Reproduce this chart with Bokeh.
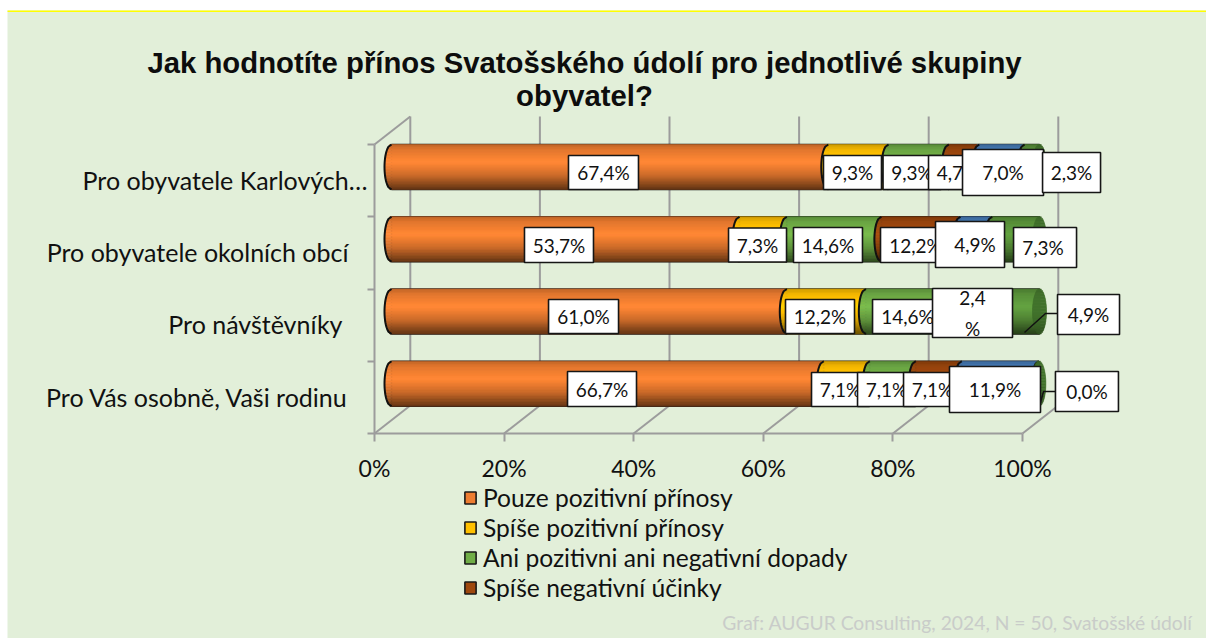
from bokeh.plotting import figure
from bokeh.models import Range1d, FixedTicker, Legend, LegendItem, Label, LabelSet, ColumnDataSource, LinearAxis
from bokeh.core.properties import value
from bokeh.embed import file_html
from bokeh.resources import INLINE

# ---- data -------------------------------------------------------------
categories = ["Pro obyvatele Karlových…", "Pro obyvatele okolních obcí", "Pro návštěvníky", "Pro Vás osobně, Vaši rodinu"]
series_names = ["Pouze pozitivní přínosy", "Spíše pozitivní přínosy", "Ani pozitivni ani negativní dopady",
                "Spíše negativní účinky", "", ""]
pouze_pozitivni = [67.4, 53.7, 61.0, 66.7]
spise_pozitivni = [9.3, 7.3, 12.2, 7.1]
ani_ani = [9.3, 14.6, 14.6, 7.1]
spise_negativni = [4.7, 12.2, 2.4, 7.1]
negativni = [7.0, 4.9, 4.9, 11.9]
nevi = [2.3, 7.3, 4.9, 0.0]
series = [pouze_pozitivni, spise_pozitivni, ani_ani, spise_negativni, negativni, nevi]
x_ticks = [0, 20, 40, 60, 80, 100]

# ---- style ------------------------------------------------------------
colors = ["#ED7D31", "#FFC000", "#70AD47", "#9E480E", "#4A80BE", "#5C963C"]
cap_color = "#3F6D2A"
BG = "#E2EFD9"
GRID = "#9C9C9C"
FONT = "Lato"

# ---- scales: px per unit -------------------------------------------------
W, H = 1206, 638
PX = 6.48
PY = 72.25
FL, FB = 374, 433           # page px of the axes' origin
def dx(px): return px / PX
def dy(px): return px / PY
def X(px): return (px - FL) / PX
def Y(py): return (FB - py) / PY

DEPTH_BAR = dx(17)
DEPTH_BACK = dx(35.8)
DEPTH_Y = dy(28)
CAP = dx(7)
row_y = [Y(166.5 + 72.25 * k) for k in range(4)]
BAR_H = dy(45)

p = figure(width=W, height=H, x_range=Range1d(X(0), X(W)), y_range=Range1d(Y(H), Y(0)),
           output_backend="svg", toolbar_location=None, min_border=0,
           x_axis_location=None, y_axis_location=None)
p.grid.visible = False
p.outline_line_color = None
p.background_fill_color = "white"
p.border_fill_color = "white"

# panel background and the yellow top rule
p.quad(left=[X(7)], right=[X(W)], top=[Y(10)], bottom=[Y(H)], fill_color=BG, line_color=None)
p.quad(left=[X(7)], right=[X(W)], top=[Y(10)], bottom=[Y(11.5)], fill_color="#FFFF00", line_color=None)

# axes
ax = LinearAxis(fixed_location=0)
ax.ticker = FixedTicker(ticks=x_ticks)
ax.major_label_overrides = {t: f"{t}%" for t in x_ticks}
ax.bounds = (0, 100)
ax.axis_line_color = GRID
ax.axis_line_width = 2
ax.major_tick_line_color = GRID
ax.major_tick_line_width = 2
ax.major_tick_out = 8
ax.major_tick_in = 0
ax.minor_tick_line_color = None
ax.major_label_text_font = FONT
ax.major_label_text_font_size = "23px"
ax.major_label_text_color = "#111111"
ax.major_label_standoff = 12
p.add_layout(ax, "below")
ay = LinearAxis(fixed_location=0)
ay.ticker = FixedTicker(ticks=[0, 1, 2, 3, 4])
ay.major_label_overrides = {t: "" for t in range(5)}
ay.bounds = (0, 4)
ay.axis_line_color = GRID
ay.axis_line_width = 2
ay.major_tick_line_color = GRID
ay.major_tick_line_width = 2
ay.major_tick_out = 7
ay.major_tick_in = 0
ay.minor_tick_line_color = None
p.add_layout(ay, "left")

# 3D walls
wall_xs = [[t, t + DEPTH_BACK] for t in x_ticks] + [[t + DEPTH_BACK, t + DEPTH_BACK] for t in x_ticks] + [[0, DEPTH_BACK]]
wall_ys = [[0, DEPTH_Y] for t in x_ticks] + [[DEPTH_Y, 4 + DEPTH_Y] for t in x_ticks] + [[4, 4 + DEPTH_Y]]
p.multi_line(wall_xs, wall_ys, line_color=GRID, line_width=2)

# ---- shading --------------------------------------------------------------
N = 30
def shade(v):
    pts = [(0, .80), (.12, .95), (.4, 1.10), (.7, .85), (1, .42)]
    for (a, fa), (b, fb) in zip(pts, pts[1:]):
        if v <= b:
            return fa + (fb - fa) * (v - a) / (b - a)
    return .42
def tint(c, f):
    r, g, b = [min(255, int(int(c[i:i + 2], 16) * f)) for i in (1, 3, 5)]
    return f"#{r:02x}{g:02x}{b:02x}"
def bulge(v):
    return CAP * max(0, 1 - (2 * v - 1) ** 2) ** .5

legend_items = []
cum = [0.0, 0.0, 0.0, 0.0]
starts = []
for s, vals in enumerate(series):
    lefts = [cum[r] + DEPTH_BAR for r in range(4)]
    rights = [cum[r] + vals[r] + DEPTH_BAR for r in range(4)]
    starts.append(lefts)
    base = p.quad(left=lefts, right=rights, top=[y + BAR_H / 2 for y in row_y], bottom=[y - BAR_H / 2 for y in row_y],
                  fill_color=colors[s], line_color="#1a1a1a", line_width=1.6)
    if series_names[s]:
        legend_items.append(LegendItem(label=series_names[s], renderers=[base]))
    L, R, T, B, C = [], [], [], [], []
    xs, ys = [], []
    for r in range(4):
        for i in range(N):
            v = (i + .5) / N
            L.append(lefts[r] - bulge(v))
            R.append(rights[r])
            T.append(row_y[r] + BAR_H / 2 - BAR_H * i / N)
            B.append(row_y[r] + BAR_H / 2 - BAR_H * (i + 1) / N)
            C.append(tint(colors[s], shade(v)))
        arc_v = [i / 20 for i in range(21)]
        xs.append([lefts[r] - bulge(v) for v in arc_v])
        ys.append([row_y[r] + BAR_H / 2 - BAR_H * v for v in arc_v])
    p.quad(left=L, right=R, top=T, bottom=B, fill_color=C, line_color=C, line_width=.6)
    p.multi_line(xs, ys, line_color="#111111", line_width=2)
    cum = [cum[r] + vals[r] for r in range(4)]

# end caps
L, R, T, B, C = [], [], [], [], []
for r in range(4):
    for i in range(N):
        v = (i + .5) / N
        L.append(cum[r] + DEPTH_BAR - bulge(v))
        R.append(cum[r] + DEPTH_BAR + bulge(v))
        T.append(row_y[r] + BAR_H / 2 - BAR_H * i / N)
        B.append(row_y[r] + BAR_H / 2 - BAR_H * (i + 1) / N)
        C.append(tint(cap_color, .55 + .5 * min(1, shade(v))))
p.quad(left=L, right=R, top=T, bottom=B, fill_color=C, line_color=C, line_width=.6)

# leader lines of the moved labels
leader_x = [[X(1024), X(1045), X(1057)], [X(1040), X(1043), X(1055)]]
leader_y = [[Y(332), Y(313), Y(313)], [Y(402), Y(391), Y(391)]]
p.multi_line(leader_x, leader_y, line_color="#111111", line_width=1.5)

# ---- data labels: layout per row / series (px) ----------------------------
box_w = [[70, 58, 58, 58, 81, 58], [69, 58, 69, 70, 69, 63], [70, 69, 70, 80, 0, 62], [69, 58, 58, 58, 91, 63]]
box_h = [[34, 34, 34, 34, 46, 40], [35, 34, 35, 35, 46, 40], [34, 34, 34, 49, 0, 40], [35, 34, 34, 34, 46, 40]]
off_x = [[-6.4, -5.9, -6.6, -6.5, 1.1, 39.5], [-6.5, -5.6, -6.1, -5.4, -6.3, 29.2],
         [-5.6, -6.3, -5.6, 4.3, 0, 64.9], [-5.6, -6.2, -6.2, -6.2, -5.3, 48.1]]
off_y = [[5.5, 5.5, 5.5, 5.5, 5.5, 5.5], [5.8, 5.8, 5.8, 5.8, 5.3, 8.3],
         [5, 5, 5, 1.5, 0, 3], [5.3, 5.8, 5.8, 5.8, 5.8, 7.8]]
text_off = {(1, 4): 5, (1, 5): -2}
for s, vals in enumerate(series):
    ql, qr, qt, qb, tx, ty, tt = [], [], [], [], [], [], []
    for r in range(4):
        if box_w[r][s] == 0:
            continue
        cx = starts[s][r] + vals[r] / 2 + dx(off_x[r][s])
        cy = row_y[r] - dy(off_y[r][s])
        ql.append(cx - dx(box_w[r][s]) / 2)
        qr.append(cx + dx(box_w[r][s]) / 2)
        qt.append(cy + dy(box_h[r][s]) / 2)
        qb.append(cy - dy(box_h[r][s]) / 2)
        tx.append(cx + dx(text_off.get((r, s), 0)))
        ty.append(cy)
        lab = f"{vals[r]:.1f}".replace(".", ",")
        tt.append(lab + "\n%" if (r, s) == (2, 3) else lab + "%")
    p.quad(left=ql, right=qr, top=qt, bottom=qb, fill_color="white", line_color="#161616", line_width=1.6)
    p.text(tx, ty, text=tt, text_font=value(FONT), text_font_size="19px", text_align="center",
           text_baseline="middle", text_color="#111111", text_line_height=1.35)

# ---- category labels ------------------------------------------------------
cat_right = [367, 348, 342, 348]
cat_center = [179.5, 251.5, 323.5, 396.5]
p.add_layout(LabelSet(source=ColumnDataSource(dict(x=[X(v) for v in cat_right], y=[Y(v) for v in cat_center], t=categories)),
                      x="x", y="y", text="t", text_align="right", text_baseline="middle", text_font=value(FONT),
                      text_font_size=value("25px"), text_color="#111111"))

# ---- title, footer --------------------------------------------------------
for txt, py in [("Jak hodnotíte přínos Svatošského údolí pro jednotlivé skupiny", 62),
                ("obyvatel?", 95)]:
    p.add_layout(Label(x=X(584), y=Y(py), text=txt, text_align="center", text_baseline="middle",
                       text_font="Liberation Sans", text_font_style="bold", text_font_size="29.3px", text_color="#0d0d0d"))
p.add_layout(Label(x=X(1192), y=Y(622), text="Graf: AUGUR Consulting, 2024, N = 50, Svatošské údolí", text_align="right",
                   text_baseline="middle", text_font=FONT, text_font_size="19.3px", text_color="#C9CCC9"))

# ---- legend ---------------------------------------------------------------
legend = Legend(items=legend_items, location=(463, H - 602.5), orientation="vertical", padding=0, margin=0,
                spacing=0, label_height=30, glyph_height=15, glyph_width=14, label_standoff=6,
                background_fill_alpha=0, border_line_color=None, label_text_font=FONT,
                label_text_font_size="24.6px", label_text_color="#111111")
p.add_layout(legend, "center")

open("out.html", "w").write(file_html(p, INLINE))
